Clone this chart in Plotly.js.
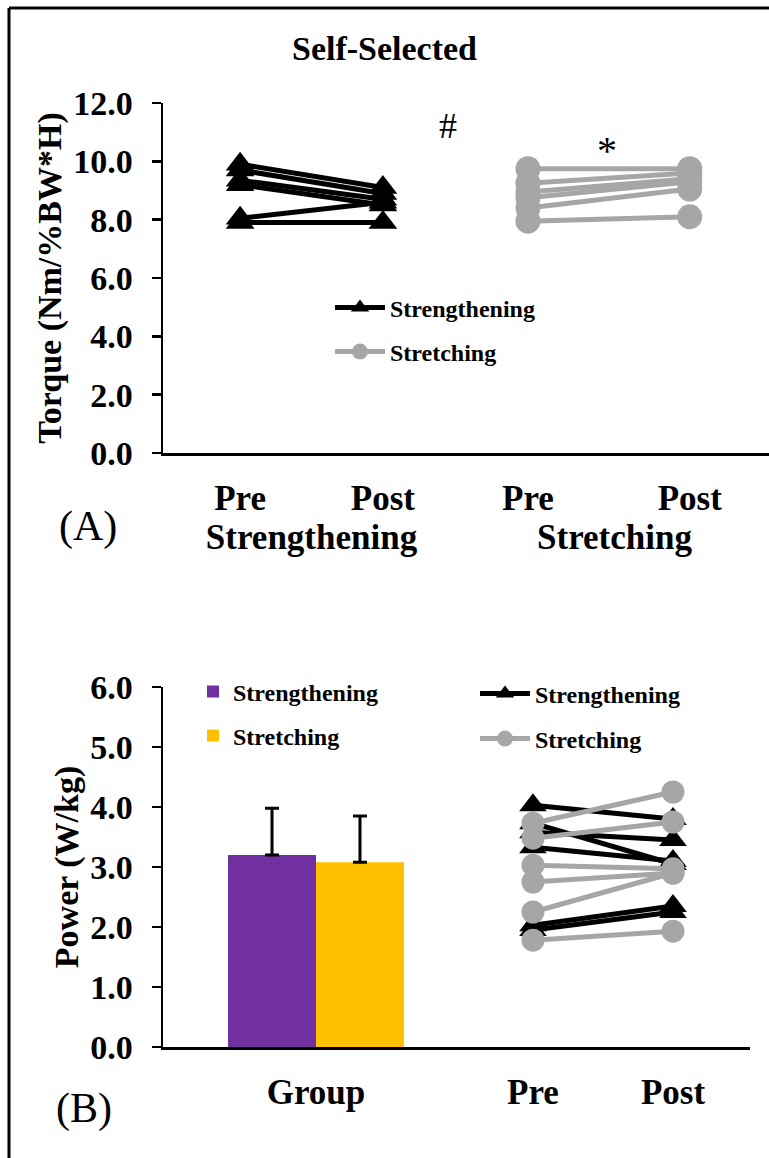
<!DOCTYPE html>
<html>
<head>
<meta charset="utf-8">
<script src="https://cdn.plot.ly/plotly-3.0.1.min.js"></script>
<style>html,body{margin:0;padding:0;background:#fff;}#chart{width:769px;height:1158px;}</style>
</head>
<body>
<div id="chart"></div>
<script>
// ---------- data ----------
const timeCategories = ['Pre', 'Post'];
const groupNames = ['Strengthening', 'Stretching'];

// Panel A: self-selected torque (Nm/%BW*H)
const torqueStrengthPre  = [9.9, 9.7, 9.35, 9.2, 8.05, 7.9];
const torqueStrengthPost = [9.1, 8.9, 8.7, 8.5, 8.6, 7.9];
const torqueStretchPre   = [9.75, 9.25, 8.95, 8.75, 8.4, 7.95];
const torqueStretchPost  = [9.75, 9.6, 9.4, 9.3, 9.05, 8.1];

// Panel B: power (W/kg)
const groupCategory = ['Group'];
const powerMeanStrength = [3.2];
const powerSDStrength   = [0.78];
const powerMeanStretch  = [3.08];
const powerSDStretch    = [0.77];
const powerStrengthPre  = [4.03, 3.73, 3.58, 3.33, 2.03, 1.95];
const powerStrengthPost = [3.8, 3.05, 3.45, 3.1, 2.35, 2.25];
const powerStretchPre   = [3.73, 3.48, 3.03, 2.75, 2.25, 1.78];
const powerStretchPost  = [4.25, 3.75, 2.97, 2.9, 2.9, 1.93];

const tickTorque = [0, 2, 4, 6, 8, 10, 12];
const tickPower = [0, 1, 2, 3, 4, 5, 6];

// ---------- helpers ----------
const W = 769, H = 1158;
const px = x => x / W;
const py = y => 1 - y / H;
function pairs(pre, post) {
  const x = [], y = [];
  pre.forEach((v, i) => { x.push(timeCategories[0], timeCategories[1], null); y.push(v, post[i], null); });
  return {x, y};
}
const FONT = 'Liberation Serif, Times New Roman, serif';
const BLACK = '#000000', GRAY = '#A6A6A6', PURPLE = '#7030A0', GOLD = '#FFC000';

const sA = pairs(torqueStrengthPre, torqueStrengthPost);
const tA = pairs(torqueStretchPre, torqueStretchPost);
const sB = pairs(powerStrengthPre, powerStrengthPost);
const tB = pairs(powerStretchPre, powerStretchPost);

const traces = [
  {type:'scatter', mode:'lines+markers', x:sA.x, y:sA.y, xaxis:'x', yaxis:'y', name:groupNames[0],
   line:{color:BLACK, width:5}, marker:{symbol:'triangle-up', size:25, color:BLACK}, legend:'legend', connectgaps:false, hoverinfo:'skip'},
  {type:'scatter', mode:'lines+markers', x:tA.x, y:tA.y, xaxis:'x2', yaxis:'y', name:groupNames[1],
   line:{color:GRAY, width:5}, marker:{symbol:'circle', size:25, color:GRAY}, legend:'legend2', connectgaps:false, hoverinfo:'skip'},
  {type:'bar', x:groupCategory, y:powerMeanStrength, xaxis:'x3', yaxis:'y3', name:groupNames[0],
   marker:{color:PURPLE}, legend:'legend3',
   error_y:{type:'data', symmetric:false, array:powerSDStrength, arrayminus:[0], color:BLACK, thickness:3, width:7}},
  {type:'bar', x:groupCategory, y:powerMeanStretch, xaxis:'x3', yaxis:'y3', name:groupNames[1],
   marker:{color:GOLD}, legend:'legend4',
   error_y:{type:'data', symmetric:false, array:powerSDStretch, arrayminus:[0], color:BLACK, thickness:3, width:7}},
  {type:'scatter', mode:'lines+markers', x:sB.x, y:sB.y, xaxis:'x4', yaxis:'y3', name:groupNames[0],
   line:{color:BLACK, width:5}, marker:{symbol:'triangle-up', size:24, color:BLACK}, legend:'legend5', connectgaps:false, hoverinfo:'skip'},
  {type:'scatter', mode:'lines+markers', x:tB.x, y:tB.y, xaxis:'x4', yaxis:'y3', name:groupNames[1],
   line:{color:GRAY, width:5}, marker:{symbol:'circle', size:23, color:GRAY}, legend:'legend6', connectgaps:false, hoverinfo:'skip'}
];

const xTickFont = {family:FONT, size:35, color:BLACK, weight:'bold'};
const yTickFont = {family:FONT, size:34, color:BLACK, weight:'bold'};
const titleFont = {family:FONT, size:35, color:BLACK, weight:'bold'};
const yTitleFont = {family:FONT, size:34, color:BLACK, weight:'bold'};
const legFont = {family:FONT, size:24, color:BLACK, weight:'bold'};

function xAxis(domain, range, anchor, title) {
  return {domain, range, anchor, type:'category', categoryorder:'array', categoryarray:timeCategories,
    showline:true, linecolor:BLACK, linewidth:2.5, ticks:'', showgrid:false, zeroline:false,
    tickfont:xTickFont, ticklabelstandoff:12, automargin:false,
    title:{text:title, font:titleFont, standoff:2}};
}
function yAxis(domain, range, anchor, vals, title) {
  return {domain, range, anchor, tickvals:vals, ticktext:vals.map(v => v.toFixed(1)),
    showline:true, linecolor:BLACK, linewidth:2.5, ticks:'outside', ticklen:9, tickwidth:2.5, tickcolor:BLACK,
    showgrid:false, zeroline:false, tickfont:yTickFont, ticklabelstandoff:12, automargin:false,
    title:{text:title, font:yTitleFont, standoff:2}};
}

const legLine = {xanchor:'left', yanchor:'middle', bgcolor:'rgba(0,0,0,0)', font:legFont, itemwidth:50, borderwidth:0};
const legBar = {xanchor:'left', yanchor:'middle', bgcolor:'rgba(0,0,0,0)', font:legFont, itemwidth:30, borderwidth:0};

function label(text, x, y, size, weight) {
  return {text, xref:'paper', yref:'paper', x:px(x), y:py(y), xanchor:'center', yanchor:'middle',
    showarrow:false, font:{family:FONT, size, color:BLACK, weight}};
}

const layout = {
  width:W, height:H, margin:{l:0, r:0, t:0, b:0},
  paper_bgcolor:'#ffffff', plot_bgcolor:'rgba(0,0,0,0)',
  showlegend:true,
  title:{text:'Self-Selected', font:{family:FONT, size:34, color:BLACK, weight:'bold'}, x:0.5, xanchor:'center', y:py(48), yanchor:'middle', xref:'paper', yref:'paper'},
  barmode:'group', bargap:0.425, bargroupgap:0,
  xaxis: xAxis([px(163), px(460)], [-0.54, 1.54], 'y', groupNames[0]),
  xaxis2: xAxis([px(460), 1], [-0.42, 1.49], 'y', groupNames[1]),
  yaxis: yAxis([py(453), py(103)], [0, 12], 'x', tickTorque, 'Torque (Nm/%BW*H)'),
  xaxis3: Object.assign(xAxis([px(163), px(469)], [-0.5, 0.5], 'y3', ''), {categoryarray:groupCategory}),
  xaxis4: xAxis([px(469), px(750)], [-0.457, 1.55], 'y3', ''),
  yaxis3: yAxis([py(1047), py(687)], [0, 6], 'x3', tickPower, 'Power (W/kg)'),
  legend:  Object.assign({}, legLine, {x:px(330), y:py(308)}),
  legend2: Object.assign({}, legLine, {x:px(330), y:py(352)}),
  legend3: Object.assign({}, legBar, {x:px(193), y:py(692)}),
  legend4: Object.assign({}, legBar, {x:px(193), y:py(736)}),
  legend5: Object.assign({}, legLine, {x:px(475), y:py(694)}),
  legend6: Object.assign({}, legLine, {x:px(475), y:py(739)}),
  annotations: [
    label('#', 448, 126, 36, 'normal'),
    label('*', 607, 150, 40, 'normal'),
    label('(A)', 88, 526, 42, 'normal'),
    label('(B)', 84, 1108, 42, 'normal')
  ],
  shapes: [
    {type:'line', xref:'paper', yref:'paper', x0:px(9), y0:py(8), x1:1, y1:py(8), line:{color:BLACK, width:3}},
    {type:'line', xref:'paper', yref:'paper', x0:px(9), y0:py(8), x1:px(9), y1:0, line:{color:BLACK, width:3}}
  ]
};

Plotly.newPlot('chart', traces, layout, {staticPlot:true, displayModeBar:false});
</script>
</body>
</html>
